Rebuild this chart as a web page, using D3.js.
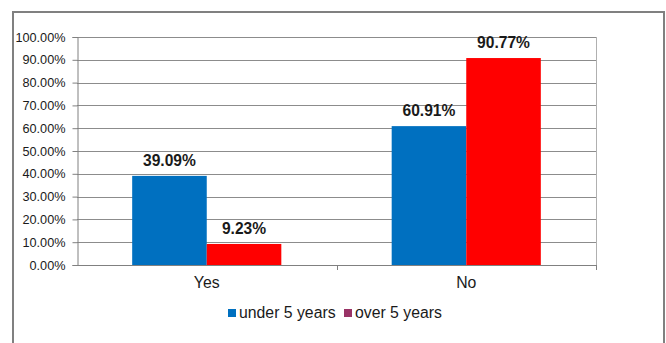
<!DOCTYPE html>
<html>
<head>
<meta charset="utf-8">
<script src="https://cdn.jsdelivr.net/npm/d3@7/dist/d3.min.js"></script>
<style>
  html, body { margin: 0; padding: 0; background: #fff; }
  svg { display: block; font-family: "Liberation Sans", Arial, sans-serif; }
</style>
</head>
<body>
<svg id="chart" width="666" height="343"></svg>
<script>
// Answers grouped by category, one value per series (percent)
const categories = ["Yes", "No"];
const seriesNames = ["under 5 years", "over 5 years"];
const under5 = [39.09, 60.91];
const over5 = [9.23, 90.77];
const yTicks = [0, 10, 20, 30, 40, 50, 60, 70, 80, 90, 100];

const barColors = ["#0070c0", "#ff0000"];
const legendColors = ["#0070c0", "#993366"];

const svg = d3.select("#chart");

// outer chart frame
svg.append("rect")
  .attr("x", 13).attr("y", 12)
  .attr("width", 651).attr("height", 345)
  .attr("fill", "#fff")
  .attr("stroke", "#808080").attr("stroke-width", 2);

const plot = { left: 77, right: 596, top: 37, bottom: 265 };

const x = d3.scaleBand()
  .domain(categories)
  .range([plot.left, plot.right]);

const x1 = d3.scaleBand()
  .domain(seriesNames)
  .range([0, x.bandwidth()])
  .paddingOuter(0.74)
  .paddingInner(0);

const y = d3.scaleLinear()
  .domain([0, 100])
  .range([plot.bottom, plot.top]);

// horizontal gridlines
svg.append("g")
  .selectAll("line")
  .data(yTicks.filter(d => d > 0))
  .join("line")
  .attr("x1", plot.left).attr("x2", plot.right)
  .attr("y1", d => Math.round(y(d)) + 0.5)
  .attr("y2", d => Math.round(y(d)) + 0.5)
  .attr("stroke", "#8c8c8c").attr("stroke-width", 1);

// right edge of the plot area
svg.append("line")
  .attr("x1", plot.right + 0.5).attr("x2", plot.right + 0.5)
  .attr("y1", plot.top).attr("y2", plot.bottom)
  .attr("stroke", "#b0b0b0");

// bars
const rows = categories.map((c, i) => ({ cat: c, vals: [under5[i], over5[i]] }));
const groups = svg.append("g")
  .selectAll("g")
  .data(rows)
  .join("g")
  .attr("transform", d => `translate(${x(d.cat)},0)`);

groups.selectAll("rect")
  .data(d => d.vals.map((v, j) => ({ name: seriesNames[j], v, j })))
  .join("rect")
  .attr("x", d => x1(d.name))
  .attr("width", x1.bandwidth())
  .attr("y", d => y(d.v))
  .attr("height", d => y(0) - y(d.v))
  .attr("fill", d => barColors[d.j]);

// value labels
groups.selectAll("text")
  .data(d => d.vals.map((v, j) => ({ name: seriesNames[j], v, j })))
  .join("text")
  .attr("x", d => x1(d.name) + x1.bandwidth() / 2)
  .attr("y", d => y(d.v) - 10)
  .attr("text-anchor", "middle")
  .attr("font-size", "15.6px")
  .attr("font-weight", "bold")
  .attr("fill", "#1a1a1a")
  .text(d => d.v.toFixed(2) + "%");

// y axis
const yAxis = d3.axisLeft(y)
  .tickValues(yTicks)
  .tickSize(5)
  .tickPadding(7)
  .tickFormat(d => d.toFixed(2) + "%");
const gy = svg.append("g")
  .attr("transform", `translate(${plot.left + 0.5},0)`)
  .call(yAxis);
gy.select(".domain").attr("stroke", "#808080");
gy.selectAll(".tick line").attr("stroke", "#808080");
gy.selectAll(".tick text")
  .attr("font-size", "12.7px")
  .attr("font-family", "Liberation Sans, Arial, sans-serif")
  .attr("fill", "#1a1a1a");

// x axis: tick marks sit on the category boundaries
const gx = svg.append("g");
gx.append("line")
  .attr("x1", plot.left).attr("x2", plot.right)
  .attr("y1", plot.bottom + 0.5).attr("y2", plot.bottom + 0.5)
  .attr("stroke", "#808080");
const bounds = [x.range()[0], ...categories.slice(1).map(c => x(c)), x.range()[1]];
gx.selectAll("line.tk")
  .data(bounds.slice(1))
  .join("line")
  .attr("class", "tk")
  .attr("x1", d => Math.round(d) + 0.5).attr("x2", d => Math.round(d) + 0.5)
  .attr("y1", plot.bottom).attr("y2", plot.bottom + 5)
  .attr("stroke", "#808080");
gx.selectAll("text")
  .data(categories)
  .join("text")
  .attr("x", d => x(d) + x.bandwidth() / 2)
  .attr("y", 288)
  .attr("text-anchor", "middle")
  .attr("font-size", "15.8px")
  .attr("fill", "#1a1a1a")
  .text(d => d);

// legend
const legendItems = [
  { name: seriesNames[0], color: legendColors[0], x: 228 },
  { name: seriesNames[1], color: legendColors[1], x: 344 }
];
const lg = svg.append("g");
lg.selectAll("rect")
  .data(legendItems)
  .join("rect")
  .attr("x", d => d.x).attr("y", 309)
  .attr("width", 8).attr("height", 8)
  .attr("fill", d => d.color);
lg.selectAll("text")
  .data(legendItems)
  .join("text")
  .attr("x", d => d.x + 11)
  .attr("y", 318)
  .attr("font-size", "15.8px")
  .attr("fill", "#1a1a1a")
  .text(d => d.name);
</script>
</body>
</html>
